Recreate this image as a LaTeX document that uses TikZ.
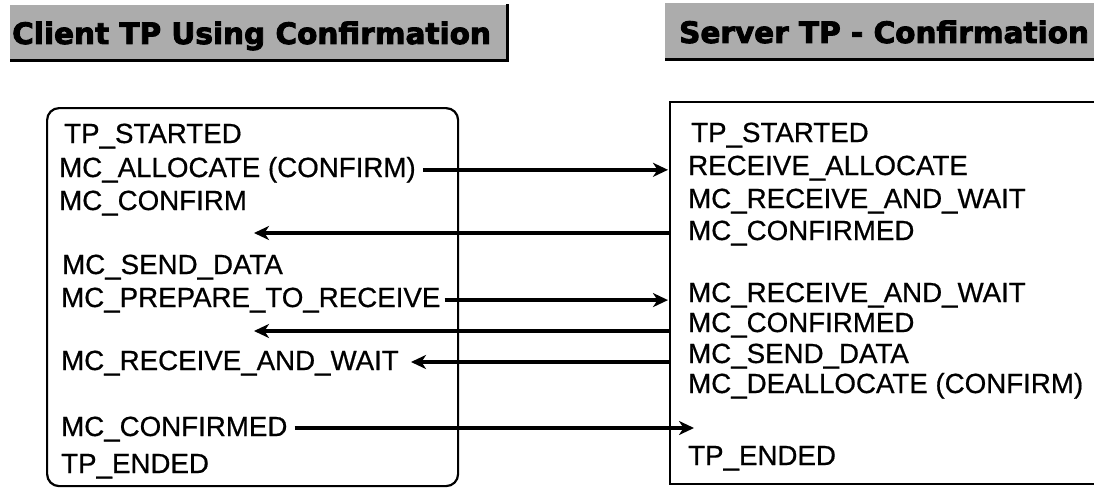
\documentclass[tikz,border=0pt]{standalone}
\usepackage{fontspec}
\setmainfont{Liberation Sans}[FakeBold=0.6]
\newfontfamily\headfont{DejaVu Sans}[BoldFeatures={FakeBold=3}]
\usetikzlibrary{arrows.meta}
\definecolor{hdrgray}{RGB}{172,172,172}
\tikzset{
  lbl/.style={anchor=base west, inner sep=0pt, font=\fontsize{27.7}{33}\selectfont},
  hdr/.style={anchor=base west, inner sep=0pt, font=\headfont\bfseries\fontsize{29.5}{34}\selectfont},
  frame/.style={line width=2.2pt},
  msg/.style={line width=3.4pt, -{Stealth[length=15pt,width=14pt,inset=4.5pt]}},
}
\begin{document}
\begin{tikzpicture}[x=1pt,y=-1pt]
\useasboundingbox (0,0) rectangle (1094,487);

% title bars
\fill[hdrgray] (10,5) rectangle (507,61);
\draw[line width=3pt] (10,61) -- (507,61) -- (507,4);
\node[hdr] (ctitle) at (12,44) {Client TP Using Confirmation};
\fill[hdrgray] (665,3) rectangle (1094,59);
\draw[line width=3pt] (665,60) -- (1094,60);
\node[hdr] (stitle) at (679,43) {Server TP - Confirmation};

% client side frame
\node[draw, frame, rounded corners=12pt, anchor=north west, inner sep=0pt,
      minimum width=411pt, minimum height=378pt] (cbox) at (46,107) {};
% server side frame (open to the right)
\draw[frame] (1094,102) -| (670,484) -- (1094,484);
\coordinate (sL) at (668,0);
\coordinate (cTip) at (254,0);

% client verbs
\node[lbl] (c1) at (64,143) {TP\_STARTED};
\node[lbl] (c2) at (59,177) {MC\_ALLOCATE (CONFIRM)};
\node[lbl] (c3) at (59,210) {MC\_CONFIRM};
\node[lbl] (c4) at (62,274) {MC\_SEND\_DATA};
\node[lbl] (c5) at (61,307) {MC\_PREPARE\_TO\_RECEIVE};
\node[lbl] (c6) at (61,370) {MC\_RECEIVE\_AND\_WAIT};
\node[lbl] (c7) at (61,436) {MC\_CONFIRMED};
\node[lbl] (c8) at (61,473) {TP\_ENDED};

% server verbs
\node[lbl] (s1) at (691,142) {TP\_STARTED};
\node[lbl] (s2) at (688,175) {RECEIVE\_ALLOCATE};
\node[lbl] (s3) at (688,208) {MC\_RECEIVE\_AND\_WAIT};
\node[lbl] (s4) at (688,240) {MC\_CONFIRMED};
\node[lbl] (s5) at (688,302) {MC\_RECEIVE\_AND\_WAIT};
\node[lbl] (s6) at (688,332) {MC\_CONFIRMED};
\node[lbl] (s7) at (688,363) {MC\_SEND\_DATA};
\node[lbl] (s8) at (688,393) {MC\_DEALLOCATE (CONFIRM)};
\node[lbl] (s9) at (688,465) {TP\_ENDED};

% flows between the two programs
\coordinate (m2s) at (670,233);
\coordinate (m4s) at (670,331);
\coordinate (m5s) at (670,362);
\coordinate (m6e) at (694,428);

\draw[msg] ([xshift=7pt]c2.east) -- (c2.east -| sL);
\draw[msg] (m2s) -- (m2s -| cTip);
\draw[msg] ([xshift=4pt]c5.east) -- (c5.east -| sL);
\draw[msg] (m4s) -- (m4s -| cTip);
\draw[msg] (m5s) -- ([xshift=12pt]m5s -| c6.east);
\draw[msg] ([xshift=7pt]c7.east |- m6e) -- (m6e);
\end{tikzpicture}
\end{document}
